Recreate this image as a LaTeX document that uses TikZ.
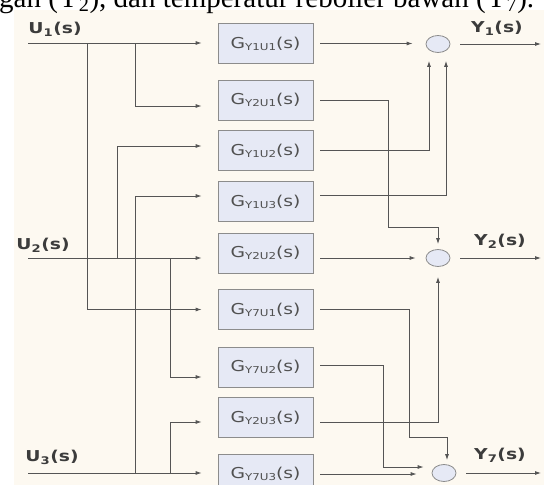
\documentclass[tikz,border=0pt]{standalone}
\usepackage{fontspec}
\setmainfont{Liberation Serif}
\newfontfamily\diagfont[FakeStretch=1.25]{DejaVu Sans}
\usetikzlibrary{arrows.meta,shapes.geometric,calc}

\definecolor{paper}{HTML}{FDF9F1}
\definecolor{boxfill}{HTML}{E6E9F5}
\definecolor{boxline}{HTML}{8C8C8C}
\definecolor{wirec}{HTML}{555555}
\definecolor{ink}{HTML}{3C3C3C}

% transfer-function label G_{Y?U?}(s)
\newcommand\gtf[2]{G\raisebox{-1.8pt}{\fontsize{9.5}{9.5}\selectfont Y#1U#2}(s)}

\begin{document}
\begin{tikzpicture}[x=1pt,y=-1pt,
  gbox/.style={draw=boxline, fill=boxfill, line width=0.8pt,
    minimum width=95pt, minimum height=40pt, inner sep=0pt,
    font=\diagfont\fontsize{15}{15}\selectfont, text=ink!90},
  sumnode/.style={ellipse, draw=boxline, fill=boxfill, line width=0.8pt,
    minimum width=24pt, minimum height=17pt, inner sep=0pt},
  wire/.style={draw=wirec, line width=0.8pt},
  arr/.style={wire, -{Latex[length=6pt,width=4pt]}},
  inarr/.style={arr, shorten >=16pt},
  outarr/.style={arr, shorten <=7pt},
  sig/.style={font=\diagfont\bfseries\fontsize{15}{15}\selectfont, text=ink, inner sep=0pt}]

\clip (0,0) rectangle (544,485);
\fill[white] (0,0) rectangle (544,485);
\fill[paper] (14,10) rectangle (544,485);

% text line of the surrounding page
\node[anchor=base west, inner sep=0pt] (cap) at (-1,7)
  {\fontsize{29}{29}\selectfont gan (Y\textsubscript{2}), dan temperatur reboiler bawah (Y\textsubscript{7}).};

% inputs
\coordinate (u1) at (28,43);
\coordinate (u2) at (28,258);
\coordinate (u3) at (28,473);
\node[sig] (lu1) at (55,29) {U\textsubscript{1}(s)};
\node[sig] (lu2) at (43,245) {U\textsubscript{2}(s)};
\node[sig] (lu3) at (52,457) {U\textsubscript{3}(s)};

% branch columns
\coordinate (colA) at (87,0);
\coordinate (colB) at (135,0);
\coordinate (colC) at (117,0);
\coordinate (colD) at (170,0);

% transfer blocks
\node[gbox] (b1) at (265.5,43.5) {\gtf{1}{1}};
\node[gbox] (b2) at (265.5,100) {\gtf{2}{1}};
\node[gbox] (b3) at (265.5,150.5) {\gtf{1}{2}};
\node[gbox] (b4) at (265.5,201.5) {\gtf{1}{3}};
\node[gbox] (b5) at (265.5,253) {\gtf{2}{2}};
\node[gbox] (b6) at (265.5,309.5) {\gtf{7}{1}};
\node[gbox] (b7) at (265.5,367) {\gtf{7}{2}};
\node[gbox] (b8) at (265.5,417.5) {\gtf{2}{3}};
\node[gbox] (b9) at (265.5,474) {\gtf{7}{3}};

% summing junctions
\node[sumnode] (s1) at (438,44) {};
\node[sumnode] (s2) at (438,258) {};
\node[sumnode] (s3) at (444,473) {};

% outputs
\coordinate (y1) at (541,44);
\coordinate (y2) at (541,258);
\coordinate (y3) at (541,473);
\node[sig] (ly1) at (497,28) {Y\textsubscript{1}(s)};
\node[sig] (ly2) at (500,241) {Y\textsubscript{2}(s)};
\node[sig] (ly3) at (500,455) {Y\textsubscript{7}(s)};

% input U1
\draw[inarr] (u1) -- (u1 -| b1.west);
\draw[inarr] (colB |- u1) |- ([yshift=-6pt]b2.west);
\draw[inarr] (colA |- u1) |- (b6.west);
% input U2
\draw[inarr] (u2) -- (u2 -| b5.west);
\draw[inarr] (colC |- u2) |- ([yshift=4.5pt]b3.west);
\draw[inarr] (colD |- u2) |- ([yshift=-10pt]b7.west);
% input U3
\draw[inarr] (u3) -- (u3 -| b9.west);
\draw[inarr] (colB |- u3) |- ([yshift=5.5pt]b4.west);
\draw[inarr] (colD |- u3) |- ([yshift=-4.5pt]b8.west);

% into Y1
\draw[outarr, shorten >=13pt] (b1.east) -- (b1.east -| s1.west);
\draw[outarr, shorten >=8pt] (b3.east) -| ([xshift=-9pt]s1.south);
\draw[outarr, shorten >=8pt] ([yshift=6.5pt]b4.east) -| ([xshift=8pt]s1.south);
% into Y2
\coordinate (k2) at (388,227);
\draw[outarr, shorten >=5pt] (b2.east) -| (k2) -| (s2.north);
\draw[outarr, shorten >=10pt] ([yshift=-5pt]b5.east) -- (s2.west);
\draw[outarr, shorten >=10pt] ([yshift=-4.5pt]b8.east) -| (s2.south);
% into Y7
\coordinate (k6) at (409,437);
\coordinate (k7) at (383,467);
\draw[outarr, shorten >=4pt] (b6.east) -| (k6) -| ([xshift=3pt]s3.north);
\draw[outarr, shorten >=8pt] ([yshift=2pt]b7.east) -| (k7) -- (k7 -| s3.west);
\draw[outarr, shorten >=15pt] (b9.east) -- (b9.east -| s3.west);

% outputs
\draw[arr, shorten <=10pt] (s1.east) -- (y1);
\draw[arr, shorten <=10pt] (s2.east) -- (y2);
\draw[arr, shorten <=10pt] (s3.east) -- (y3);
\end{tikzpicture}
\end{document}
